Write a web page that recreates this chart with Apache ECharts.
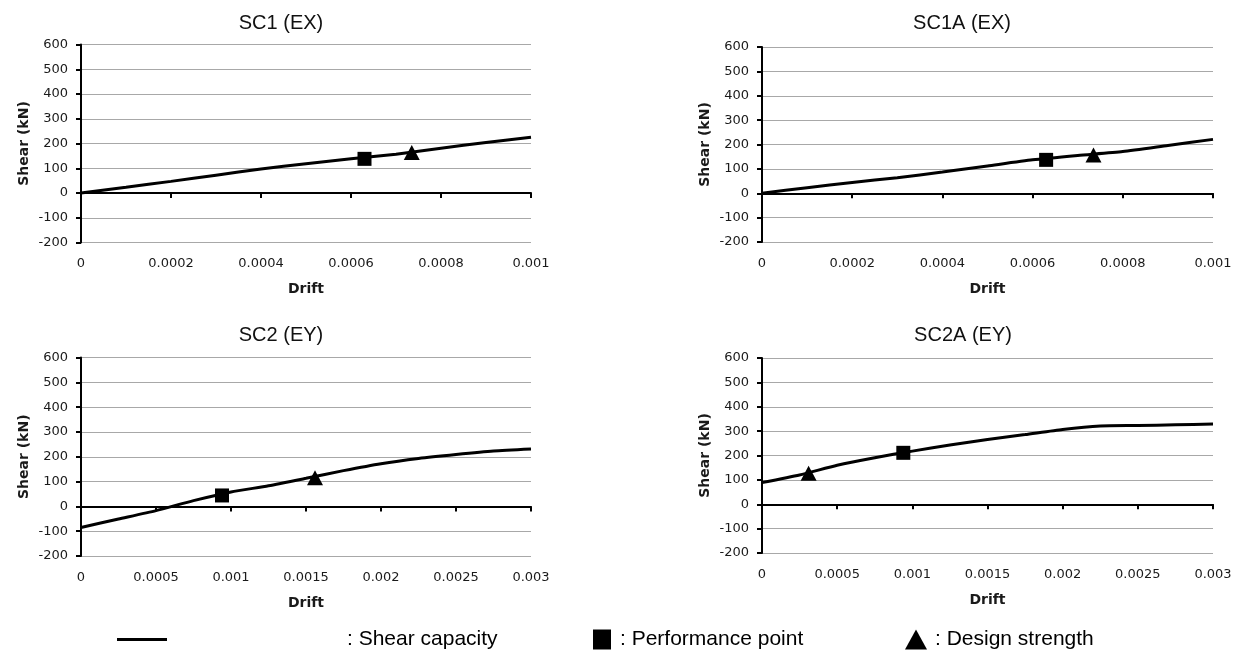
<!DOCTYPE html>
<html>
<head>
<meta charset="utf-8">
<title>Shear capacity vs drift</title>
<script src="https://cdn.jsdelivr.net/npm/echarts@6/dist/echarts.min.js"></script>
<style>
  html, body { margin: 0; padding: 0; background: #fff; }
  #chart { width: 1241px; height: 655px; }
</style>
</head>
<body>
<div id="chart"></div>
<script>
// panel titles
const titles = ["SC1 (EX)", "SC1A (EX)", "SC2 (EY)", "SC2A (EY)"];

// shear capacity curves (drift, kN)
const driftEX = [0, 0.0001, 0.0002, 0.0003, 0.0004, 0.0005, 0.0006, 0.0007, 0.0008, 0.0009, 0.001];
const shearSC1 = [0, 23, 47, 72, 97, 118, 138, 157, 181, 204, 225];
const shearSC1A = [0, 23, 44, 64, 87, 112, 137, 155, 171, 196, 221];
const driftEY = [0, 0.00025, 0.0005, 0.00075, 0.001, 0.00125, 0.0015, 0.00175, 0.002, 0.00225, 0.0025, 0.00275, 0.003];
const shearSC2 = [-85, -51, -17, 23, 58, 83, 113, 144, 172, 193, 209, 223, 231];
const shearSC2A = [89, 120, 160, 191, 218, 243, 266, 286, 307, 321, 323, 326, 329];

// performance points and design strength, one per panel
const perfDrift = [0.00063, 0.00063, 0.00094, 0.00094];
const perfShear = [138, 137, 44, 211];
const designDrift = [0.000735, 0.000735, 0.00156, 0.00031];
const designShear = [164, 157, 115, 127];

// axes
const xMax = [0.001, 0.001, 0.003, 0.003];
const xStep = [0.0002, 0.0002, 0.0005, 0.0005];
const yMin = -200, yMax = 600, yStep = 100;

const curves = [
  [driftEX, shearSC1],
  [driftEX, shearSC1A],
  [driftEY, shearSC2],
  [driftEY, shearSC2A],
];

// layout of the four panels
const panels = [
  { left: 81, top: 44.5, width: 450, height: 198, tx: 276, ty: 8 },
  { left: 762, top: 47, width: 451, height: 195, tx: 957, ty: 8 },
  { left: 81, top: 357.5, width: 450, height: 198.5, tx: 276, ty: 320 },
  { left: 762, top: 358, width: 451, height: 195, tx: 958, ty: 320 },
];

const tickFont = { fontFamily: "DejaVu Sans", fontSize: 13, color: "#1a1a1a" };
const nameFont = { fontFamily: "DejaVu Sans", fontSize: 14, fontWeight: "bold", color: "#1a1a1a" };
const fmt = (v) => String(+v.toFixed(6));

const grid = [], xAxis = [], yAxis = [], series = [], title = [];

panels.forEach((p, i) => {
  grid.push({ left: p.left, top: p.top, width: p.width, height: p.height });
  title.push({
    text: titles[i], left: p.tx, top: p.ty, textAlign: "center",
    textStyle: { fontFamily: "Liberation Sans", fontSize: 20, fontWeight: "normal", color: "#111" },
  });
  // axis drawn on the zero line with ticks only
  xAxis.push({
    type: "value", gridIndex: i, min: 0, max: xMax[i], interval: xStep[i],
    position: "bottom",
    axisLine: { onZero: true, lineStyle: { color: "#000", width: 2 } },
    axisTick: { show: true, length: 5, lineStyle: { color: "#000", width: 2 } },
    axisLabel: { show: false },
    splitLine: { show: false },
  });
  // labels at the bottom of the plot
  xAxis.push({
    type: "value", gridIndex: i, min: 0, max: xMax[i], interval: xStep[i],
    position: "bottom",
    axisLine: { show: false, onZero: false },
    axisTick: { show: false },
    axisLabel: { ...tickFont, margin: 15, formatter: fmt },
    splitLine: { show: false },
    name: "Drift", nameLocation: "middle", nameGap: 40, nameTextStyle: nameFont,
  });
  yAxis.push({
    type: "value", gridIndex: i, min: yMin, max: yMax, interval: yStep,
    axisLine: { show: true, onZero: false, lineStyle: { color: "#000", width: 2 } },
    axisTick: { show: true, length: 5, lineStyle: { color: "#000", width: 2 } },
    axisLabel: { ...tickFont, margin: 13 },
    splitLine: { show: true, lineStyle: { color: "#a8a8a8", width: 1 } },
    name: "Shear (kN)", nameLocation: "middle", nameGap: 50, nameTextStyle: nameFont,
  });
  const [dx, dy] = curves[i];
  series.push({
    name: "Shear capacity", type: "line", xAxisIndex: 2 * i, yAxisIndex: i,
    data: dx.map((x, k) => [x, dy[k]]),
    showSymbol: false, symbol: "none", smooth: 0.2,
    lineStyle: { color: "#000", width: 3 }, itemStyle: { color: "#000" },
    z: 3,
  });
  series.push({
    name: "Performance point", type: "scatter", xAxisIndex: 2 * i, yAxisIndex: i,
    data: [[perfDrift[i], perfShear[i]]],
    symbol: "rect", symbolSize: [14, 14], itemStyle: { color: "#000", opacity: 1 }, z: 4,
  });
  series.push({
    name: "Design strength", type: "scatter", xAxisIndex: 2 * i, yAxisIndex: i,
    data: [[designDrift[i], designShear[i]]],
    symbol: "triangle", symbolSize: [16, 15], itemStyle: { color: "#000", opacity: 1 }, z: 4,
  });
});

const legendText = { fontFamily: "Liberation Sans", fontSize: 21, color: "#000" };
const legend = [
  {
    data: [{ name: "Shear capacity", icon: "rect" }], left: 117, top: 629, padding: 0,
    itemWidth: 50, itemHeight: 3, selectedMode: false,
    itemStyle: { color: "#000", opacity: 1 },
    formatter: "{a|: Shear capacity}",
    textStyle: { ...legendText, rich: { a: { ...legendText, padding: [0, 0, 0, 175] } } },
  },
  {
    data: [{ name: "Performance point", icon: "rect" }], left: 593, top: 629, padding: 0,
    itemWidth: 18, itemHeight: 20, selectedMode: false,
    itemStyle: { color: "#000", opacity: 1 },
    formatter: "{a|: Performance point}",
    textStyle: { ...legendText, rich: { a: { ...legendText, padding: [0, 0, 0, 4] } } },
  },
  {
    data: [{ name: "Design strength", icon: "triangle" }], left: 905, top: 629, padding: 0,
    itemWidth: 22, itemHeight: 20, selectedMode: false,
    itemStyle: { color: "#000", opacity: 1 },
    formatter: "{a|: Design strength}",
    textStyle: { ...legendText, rich: { a: { ...legendText, padding: [0, 0, 0, 3] } } },
  },
];

const chart = echarts.init(document.getElementById("chart"));
chart.setOption({
  animation: false,
  backgroundColor: "#fff",
  title, grid, xAxis, yAxis, series, legend,
});
</script>
</body>
</html>
